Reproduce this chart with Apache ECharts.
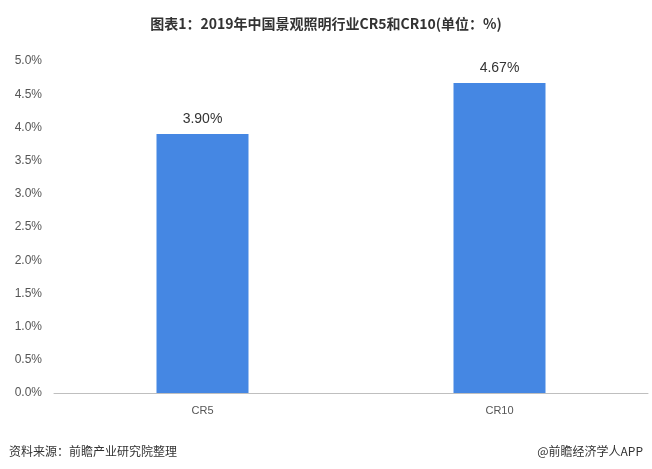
<!DOCTYPE html>
<html><head><meta charset="utf-8">
<script src="https://cdn.jsdelivr.net/npm/echarts@6/dist/echarts.min.js"></script>
<style>body{margin:0}#c{width:652px;height:469px}</style></head>
<body><div id="c"></div>
<script>
const categories = ['CR5', 'CR10'];
const values = [3.90, 4.67];
const chart = echarts.init(document.getElementById('c'));
chart.setOption({
  animation: false,
  title: [
    {text: '图表1：2019年中国景观照明行业CR5和CR10(单位：%)', left: 'center', top: 12,
     textStyle: {fontSize: 14, fontWeight: 'bold', color: '#333', fontFamily: 'Noto Sans CJK SC'}},
    {text: '资料来源：前瞻产业研究院整理', left: 4, top: 440,
     textStyle: {fontSize: 12, fontWeight: 'normal', color: '#333', fontFamily: 'Noto Sans CJK SC'}},
    {text: '@前瞻经济学人APP', right: 4, top: 440,
     textStyle: {fontSize: 12, fontWeight: 'normal', color: '#333', fontFamily: 'Noto Sans CJK SC'}}
  ],
  grid: {left: 54, right: 4, top: 61, bottom: 76},
  xAxis: {type: 'category', data: categories,
    axisLine: {lineStyle: {color: '#bfbfbf'}}, axisTick: {show: false},
    axisLabel: {color: '#555', fontSize: 11, margin: 12}},
  yAxis: {type: 'value', min: 0, max: 5, interval: 0.5,
    axisLine: {show: false}, axisTick: {show: false}, splitLine: {show: false},
    axisLabel: {color: '#555', fontSize: 12, margin: 12, formatter: v => v.toFixed(1) + '%'}},
  series: [{type: 'bar', data: values, barWidth: 92,
    itemStyle: {color: '#4587E3'},
    label: {show: true, position: 'top', distance: 8, fontSize: 14, color: '#333',
      formatter: p => p.value.toFixed(2) + '%'}}]
});
</script></body></html>
